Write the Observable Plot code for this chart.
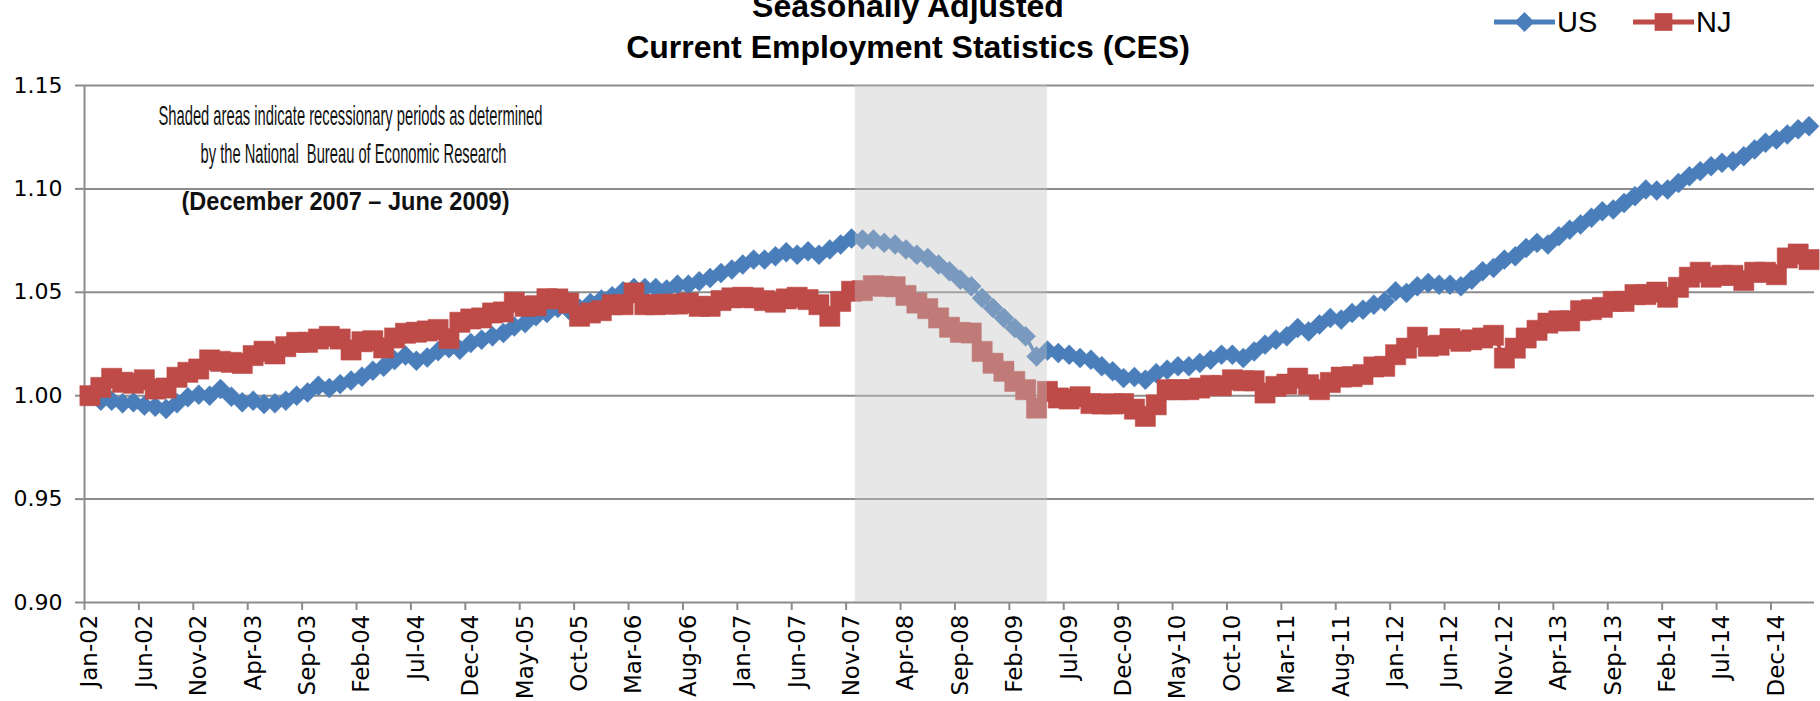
<!DOCTYPE html>
<html>
<head>
<meta charset="utf-8">
<script src="https://cdn.jsdelivr.net/npm/d3@7"></script>
<script src="https://cdn.jsdelivr.net/npm/@observablehq/plot@0.6"></script>
<style>
  html, body { margin: 0; padding: 0; background: #ffffff; }
  #wrap { position: relative; width: 1820px; height: 701px; overflow: hidden; background: #fff; }
  #chart { position: absolute; left: 0; top: 0; }
  #overlay { position: absolute; left: 0; top: 0; pointer-events: none; }
</style>
</head>
<body>
<div id="wrap">
  <div id="chart"></div>
  <svg id="overlay" width="1820" height="701"></svg>
</div>
<script>
// ---------------- DATA ----------------
const monthNames = ["Jan","Feb","Mar","Apr","May","Jun","Jul","Aug","Sep","Oct","Nov","Dec"];
const firstYear = 2002;
const monthCount = 159; // Jan-02 .. Mar-15

const titleLines = ["Seasonally Adjusted", "Current Employment Statistics (CES)"];
const seriesNames = ["US", "NJ"];

const usValues = [
  1.0000,0.9976,0.9976,0.9963,0.9968,0.9952,0.9947,0.9936,0.9963,0.9992,
  1.0005,1.0000,1.0032,0.9995,0.9968,0.9976,0.9960,0.9963,0.9976,1.0000,
  1.0016,1.0048,1.0037,1.0056,1.0073,1.0092,1.0121,1.0140,1.0172,1.0194,
  1.0169,1.0185,1.0215,1.0230,1.0222,1.0255,1.0271,1.0287,1.0303,1.0335,
  1.0351,1.0384,1.0400,1.0424,1.0416,1.0420,1.0448,1.0465,1.0481,1.0505,
  1.0521,1.0521,1.0521,1.0513,1.0537,1.0537,1.0553,1.0569,1.0593,1.0610,
  1.0634,1.0658,1.0658,1.0674,1.0694,1.0682,1.0698,1.0682,1.0707,1.0731,
  1.0760,1.0755,1.0755,1.0739,1.0731,1.0707,1.0682,1.0666,1.0634,1.0602,
  1.0561,1.0529,1.0472,1.0424,1.0376,1.0327,1.0287,1.0190,1.0218,1.0206,
  1.0198,1.0182,1.0174,1.0142,1.0118,1.0085,1.0090,1.0077,1.0109,1.0126,
  1.0142,1.0142,1.0158,1.0174,1.0198,1.0198,1.0182,1.0214,1.0247,1.0271,
  1.0287,1.0327,1.0311,1.0344,1.0376,1.0368,1.0400,1.0416,1.0440,1.0456,
  1.0505,1.0497,1.0529,1.0545,1.0537,1.0537,1.0529,1.0561,1.0602,1.0618,
  1.0658,1.0674,1.0714,1.0739,1.0731,1.0771,1.0803,1.0828,1.0860,1.0892,
  1.0900,1.0932,1.0965,1.0997,1.0992,1.0997,1.1029,1.1061,1.1086,1.1110,
  1.1126,1.1134,1.1158,1.1191,1.1223,1.1239,1.1263,1.1288,1.1303
];

const njValues = [
  1.0000,1.0040,1.0084,1.0065,1.0060,1.0077,1.0032,1.0037,1.0089,1.0113,
  1.0129,1.0173,1.0166,1.0161,1.0156,1.0194,1.0215,1.0202,1.0237,1.0258,
  1.0258,1.0274,1.0287,1.0274,1.0221,1.0261,1.0266,1.0231,1.0279,1.0302,
  1.0307,1.0313,1.0320,1.0276,1.0355,1.0371,1.0376,1.0400,1.0405,1.0452,
  1.0432,1.0435,1.0469,1.0468,1.0448,1.0384,1.0400,1.0411,1.0440,1.0440,
  1.0497,1.0440,1.0440,1.0443,1.0443,1.0448,1.0432,1.0432,1.0460,1.0473,
  1.0476,1.0473,1.0460,1.0452,1.0468,1.0476,1.0465,1.0440,1.0384,1.0456,
  1.0505,1.0508,1.0532,1.0529,1.0527,1.0485,1.0448,1.0421,1.0376,1.0331,
  1.0306,1.0303,1.0214,1.0157,1.0118,1.0069,1.0029,0.9940,1.0021,0.9989,
  0.9984,0.9995,0.9962,0.9960,0.9960,0.9962,0.9935,0.9900,0.9956,1.0029,
  1.0029,1.0029,1.0037,1.0050,1.0048,1.0077,1.0072,1.0072,1.0013,1.0045,
  1.0056,1.0085,1.0053,1.0029,1.0064,1.0090,1.0092,1.0102,1.0139,1.0142,
  1.0198,1.0230,1.0283,1.0239,1.0244,1.0276,1.0263,1.0270,1.0279,1.0292,
  1.0182,1.0230,1.0279,1.0316,1.0351,1.0362,1.0362,1.0411,1.0416,1.0427,
  1.0456,1.0456,1.0489,1.0489,1.0501,1.0476,1.0524,1.0573,1.0597,1.0573,
  1.0582,1.0582,1.0557,1.0597,1.0597,1.0585,1.0666,1.0685,1.0658
];

const yTicks = [0.90, 0.95, 1.00, 1.05, 1.10, 1.15];
const labelEvery = 5;
const recession = { start: "Dec-07", end: "Jun-09" };
const annotationLines = [
  "Shaded areas indicate recessionary periods as determined",
  "by the National  Bureau of Economic Research",
  "(December 2007 \u2013 June 2009)"
];

// ---------------- STYLE ----------------
const blue = "#4a7ebb";
const red = "#be4b48";
const gridColor = "#8c8c8c";
const tickFont = "'DejaVu Sans', sans-serif";

// ---------------- BUILD ----------------
const months = d3.range(monthCount).map(i =>
  monthNames[i % 12] + "-" + String((firstYear + Math.floor(i / 12)) % 100).padStart(2, "0"));
const rows = months.map((m, i) => ({ i, month: m, US: usValues[i], NJ: njValues[i] }));
const labelTicks = d3.range(0, monthCount, labelEvery);
const boundaryTicks = labelTicks.map(i => i - 0.5);
const shade = [{ x1: months.indexOf(recession.start) - 0.65, x2: months.indexOf(recession.end) - 1 }];

const chart = Plot.plot({
  width: 1820,
  height: 701,
  marginTop: 85,
  marginBottom: 99,
  marginLeft: 84,
  marginRight: 6,
  style: { background: "#ffffff", fontFamily: tickFont, color: "#000" },
  x: { type: "linear", domain: [-0.5, monthCount - 0.5], axis: null },
  y: { domain: [0.90, 1.15], axis: null },
  marks: [
    Plot.ruleY(yTicks, { stroke: gridColor, strokeWidth: 2 }),
    Plot.ruleX([-0.5], { stroke: gridColor, strokeWidth: 2 }),
    Plot.axisY(yTicks, {
      anchor: "left", tickSize: 9, tickPadding: 13, stroke: gridColor, strokeWidth: 2,
      tickFormat: d3.format(".2f"), fontSize: 22, fontFamily: tickFont, fill: "#000", label: null
    }),
    Plot.axisX(boundaryTicks, {
      anchor: "bottom", tickSize: 8, stroke: gridColor, strokeWidth: 2, tickFormat: () => "", label: null
    }),
    Plot.axisX(labelTicks, {
      anchor: "bottom", tickSize: 0, tickPadding: 12, tickRotate: -90,
      tickFormat: i => months[i], fontSize: 23, fontFamily: tickFont, fill: "#000", label: null
    }),
    Plot.line(rows, { x: "i", y: "US", stroke: blue, strokeWidth: 3.5 }),
    Plot.dot(rows, { x: "i", y: "US", symbol: "diamond2", r: 9, fill: blue, stroke: blue, strokeWidth: 0.5 }),
    Plot.line(rows, { x: "i", y: "NJ", stroke: red, strokeWidth: 3.5 }),
    Plot.dot(rows, { x: "i", y: "NJ", symbol: "square", r: 11.4, fill: red, stroke: red, strokeWidth: 0.5 }),
    Plot.rect(shade, { x1: "x1", x2: "x2", y1: 0.90, y2: 1.15, fill: "#c4c4c4", fillOpacity: 0.4 }),
    Plot.text([annotationLines[0]], { text: d => d, frameAnchor: "top-left", dx: 266, dy: 31,
      textAnchor: "middle", lineAnchor: "middle", fontSize: 28, fontFamily: "'Liberation Sans Narrow', sans-serif", fill: "#111" }),
    Plot.text([annotationLines[1]], { text: d => d, frameAnchor: "top-left", dx: 269, dy: 69,
      textAnchor: "middle", lineAnchor: "middle", fontSize: 28, fontFamily: "'Liberation Sans Narrow', sans-serif", fill: "#111" }),
    Plot.text([annotationLines[2]], { text: d => d, frameAnchor: "top-left", dx: 261, dy: 116,
      textAnchor: "middle", lineAnchor: "middle", fontSize: 25, fontWeight: "bold", fontFamily: "'Liberation Sans', sans-serif", fill: "#111" })
  ]
});
document.getElementById("chart").appendChild(chart);

// squeeze annotation text to the reference widths
const annotationWidths = [384, 306, 328];
d3.select(chart).selectAll("text").each(function () {
  const k = annotationLines.indexOf(this.textContent);
  if (k >= 0) {
    this.setAttribute("textLength", annotationWidths[k]);
    this.setAttribute("lengthAdjust", "spacingAndGlyphs");
    this.setAttribute("xml:space", "preserve");
  }
});

// ---------------- TITLE & LEGEND (overlay) ----------------
const ov = d3.select("#overlay");
ov.append("text").attr("x", 908).attr("y", 17).attr("text-anchor", "middle")
  .attr("font-family", "'Liberation Sans', Arial, sans-serif").attr("font-weight", "bold")
  .attr("font-size", 32).text(titleLines[0]);
ov.append("text").attr("x", 908).attr("y", 58).attr("text-anchor", "middle")
  .attr("font-family", "'Liberation Sans', Arial, sans-serif").attr("font-weight", "bold")
  .attr("font-size", 32).text(titleLines[1]);

const legendItems = [
  { name: seriesNames[0], color: blue, symbol: d3.symbolDiamond2, size: 9 * 9 * Math.PI, x: 1494 },
  { name: seriesNames[1], color: red, symbol: d3.symbolSquare, size: 10 * 10 * Math.PI, x: 1633 }
];
for (const it of legendItems) {
  const g = ov.append("g").attr("transform", `translate(${it.x},22)`);
  g.append("line").attr("x1", 0).attr("x2", 61).attr("y1", 0).attr("y2", 0)
    .attr("stroke", it.color).attr("stroke-width", 5);
  g.append("path").attr("d", d3.symbol(it.symbol, it.size)()).attr("transform", "translate(30.5,0)")
    .attr("fill", it.color);
  g.append("text").attr("x", 63).attr("y", 10).attr("font-family", "'Liberation Sans Narrow', sans-serif")
    .attr("font-size", 29).attr("fill", "#000").text(it.name);
}
</script>
</body>
</html>
